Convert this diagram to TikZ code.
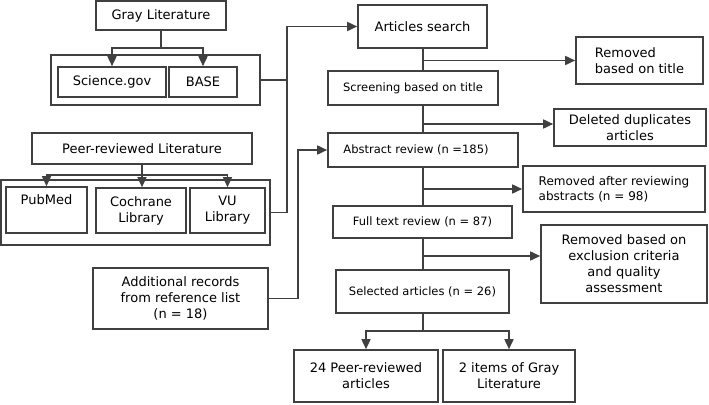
\documentclass[tikz,border=0pt]{standalone}
\usepackage{fontspec}
\setmainfont{DejaVu Sans}
\usetikzlibrary{arrows.meta}
\definecolor{linegray}{HTML}{404040}
\tikzset{
  box/.style={draw=linegray, line width=1.6pt, rectangle, inner sep=2pt, align=center, font=\fontsize{13}{16}\selectfont},
  smallbox/.style={box, font=\fontsize{11.5}{14}\selectfont},
  frame/.style={draw=linegray, line width=1.6pt, rectangle, inner sep=0pt},
  link/.style={draw=linegray, line width=1.6pt},
  arrow/.style={link, -{Triangle[length=10pt,width=9pt]}}
}
\begin{document}
\begin{tikzpicture}[x=1pt,y=-1pt]
\useasboundingbox (0,0) rectangle (709,404);
% left column: sources
\node[frame, minimum width=209, minimum height=50] (graybox) at (155.5,80) {};
\node[frame, minimum width=269, minimum height=65] (peerbox) at (135.5,212.5) {};
\node[box, minimum width=130, minimum height=29] (gray) at (161,15.5) {Gray Literature};
\node[box, minimum width=108, minimum height=30] (science) at (112,82) {Science.gov};
\node[box, minimum width=68, minimum height=30] (base) at (203,82) {BASE};
\node[box, minimum width=220, minimum height=31] (peer) at (142,148.5) {Peer-reviewed Literature};
\node[box, minimum width=81, minimum height=46] (pubmed) at (46.5,210) {PubMed\\ \strut};
\node[box, minimum width=90, minimum height=45] (cochrane) at (141,210.5) {Cochrane\\Library};
\node[box, minimum width=75, minimum height=45] (vu) at (227.5,210.5) {VU\\Library};
\node[box, minimum width=175, minimum height=61] (addl) at (180.5,298.5) {Additional records\\from reference list\\(n = 18)};
% middle column: screening steps
\node[box, minimum width=129, minimum height=43] (search) at (422.5,26.5) {Articles search};
\node[smallbox, minimum width=170, minimum height=34] (screen) at (413,88) {Screening based on title};
\node[smallbox, minimum width=190, minimum height=34] (abstract) at (423,150) {Abstract review (n =185)\hspace{14pt}};
\node[smallbox, minimum width=179, minimum height=32] (fulltext) at (422.5,222) {Full text review (n = 87)};
\node[smallbox, minimum width=173, minimum height=43] (selected) at (422.5,291.5) {Selected articles (n = 26)};
\node[box, minimum width=144, minimum height=52] (peerres) at (366,376) {24 Peer-reviewed\\articles};
\node[box, minimum width=132, minimum height=52] (grayres) at (509,376) {2 items of Gray\\Literature};
% right column: exclusions
\node[box, minimum width=127, minimum height=47, align=left] (rmtitle) at (639.5,60.5) {Removed\\based on title};
\node[box, minimum width=152, minimum height=37] (dup) at (630,127.5) {Deleted duplicates\\articles};
\node[box, minimum width=182, minimum height=46, align=left, font=\fontsize{12}{15}\selectfont] (rmabs) at (614,189) {Removed after reviewing\\abstracts (n = 98)};
\node[box, minimum width=166, minimum height=78] (rmexcl) at (624,264) {Removed based on\\exclusion criteria\\and quality\\assessment};
% forks
\coordinate (gfork) at (161,48);
\draw[link] (gray.south) -- (gfork);
\draw[arrow] (gfork) -| (science.north);
\draw[arrow] (gfork) -| (base.north);
\coordinate (pfork) at (142,175);
\draw[link] (peer.south) -- (pfork);
\draw[arrow] (pfork) -| (pubmed.north);
\draw[arrow] (pfork) -- (pfork |- cochrane.north);
\draw[arrow] (pfork) -| (vu.north);
\coordinate (sfork) at (423,331);
\draw[link] (selected.south -| sfork) -- (sfork);
\draw[arrow] (sfork) -| (peerres.north);
\draw[arrow] (sfork) -| (grayres.north);
% feeders
\coordinate (bus) at (287,26.5);
\draw[link] (graybox.east) -- (graybox.east -| bus);
\draw[arrow] (peerbox.east) -| (bus) -- (search.west);
\coordinate (bus2) at (298,150);
\draw[arrow] (addl.east) -| (bus2) -- (abstract.west);
% spine
\coordinate (spine) at (423,0);
\draw[link] (search.south -| spine) -- (screen.north -| spine);
\draw[link] (screen.south -| spine) -- (abstract.north -| spine);
\draw[link] (abstract.south -| spine) -- (fulltext.north -| spine);
\draw[link] (fulltext.south -| spine) -- (selected.north -| spine);
\draw[arrow] (spine |- rmtitle.west) -- (rmtitle.west);
\draw[arrow] ([yshift=3.5pt]dup.west -| spine) -- ([yshift=3.5pt]dup.west);
\draw[arrow] (spine |- rmabs.west) -- (rmabs.west);
\draw[arrow] ([yshift=8pt]rmexcl.west -| spine) -- ([yshift=8pt]rmexcl.west);
\end{tikzpicture}
\end{document}
